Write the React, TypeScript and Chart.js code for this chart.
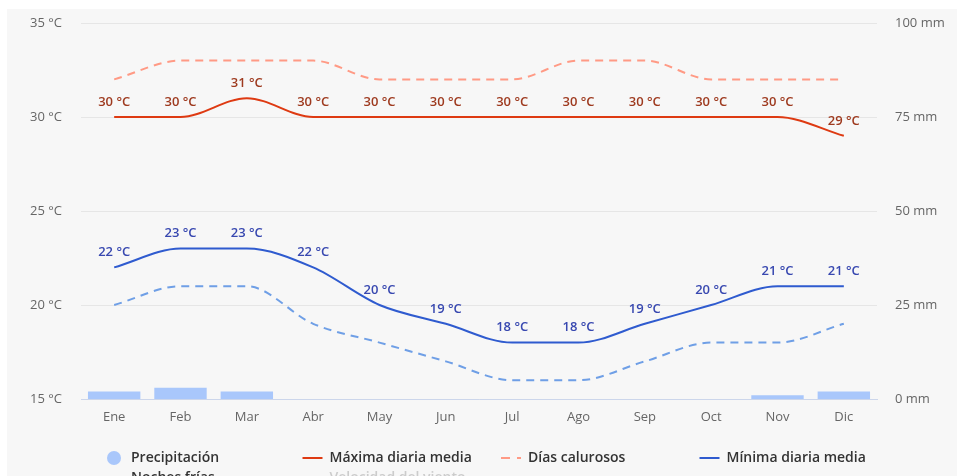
import React, { useEffect, useRef } from "react";
import { Chart, registerables } from "chart.js";

Chart.register(...registerables);

const months = ["Ene", "Feb", "Mar", "Abr", "May", "Jun", "Jul", "Ago", "Sep", "Oct", "Nov", "Dic"];
const precipitation = [2, 3, 2, 0, 0, 0, 0, 0, 0, 0, 1, 2];
const maxTemp = [30, 30, 31, 30, 30, 30, 30, 30, 30, 30, 30, 29];
const hotDays = [32, 33, 33, 33, 32, 32, 32, 33, 33, 32, 32, 32];
const minTemp = [22, 23, 23, 22, 20, 19, 18, 18, 19, 20, 21, 21];
const coldNights = [20, 21, 21, 19, 18, 17, 16, 16, 17, 18, 18, 19];
const tempTicks = [15, 20, 25, 30, 35];
const rainTicks = [0, 25, 50, 75, 100];

const FONT = "'Open Sans', sans-serif";
const BAR_COLOR = "#a9c7fb";
const MAX_COLOR = "#de3a12";
const MAX_LABEL = "#9e3a1f";
const HOT_COLOR = "#ff9a85";
const MIN_COLOR = "#2f5bcf";
const MIN_LABEL = "#3848b0";
const COLD_COLOR = "#6f9fe6";

const legendItems = [
  { label: "Precipitación", kind: "circle", color: BAR_COLOR, hidden: false },
  { label: "Máxima diaria media", kind: "line", color: MAX_COLOR, hidden: false },
  { label: "Días calurosos", kind: "dash", color: HOT_COLOR, hidden: false },
  { label: "Mínima diaria media", kind: "line", color: MIN_COLOR, hidden: false },
  { label: "Noches frías", kind: "dash", color: COLD_COLOR, hidden: false },
  { label: "Velocidad del viento", kind: "line", color: "#cccccc", hidden: true },
];

const dataLabelPlugin = {
  id: "tempLabels",
  afterDatasetsDraw(chart: any) {
    const ctx = chart.ctx;
    const targets = [
      { index: 1, color: MAX_LABEL },
      { index: 3, color: MIN_LABEL },
    ];
    ctx.save();
    ctx.font = `600 13px ${FONT}`;
    ctx.textAlign = "center";
    ctx.textBaseline = "middle";
    targets.forEach((t) => {
      const meta = chart.getDatasetMeta(t.index);
      const values = chart.data.datasets[t.index].data as number[];
      ctx.fillStyle = t.color;
      meta.data.forEach((pt: any, i: number) => {
        ctx.fillText(`${values[i]} °C`, pt.x, pt.y - 15);
      });
    });
    ctx.restore();
  },
};

const legendPlugin = {
  id: "gridLegend",
  afterDraw(chart: any) {
    const ctx = chart.ctx;
    const startX = 123;
    const colW = 198.5;
    const rowY = 449;
    const rowH = 20;
    ctx.save();
    ctx.font = `600 14px ${FONT}`;
    ctx.textBaseline = "middle";
    ctx.textAlign = "left";
    legendItems.forEach((item, i) => {
      const tx = startX + (i % 4) * colW;
      const ty = rowY + Math.floor(i / 4) * rowH;
      ctx.strokeStyle = item.color;
      ctx.fillStyle = item.color;
      if (item.kind === "circle") {
        ctx.beginPath();
        ctx.arc(tx - 17, ty, 7, 0, Math.PI * 2);
        ctx.fill();
      } else {
        ctx.lineWidth = 2;
        ctx.setLineDash(item.kind === "dash" ? [9, 7] : []);
        ctx.beginPath();
        ctx.moveTo(tx - 27, ty);
        ctx.lineTo(tx - 7, ty);
        ctx.stroke();
        ctx.setLineDash([]);
      }
      ctx.fillStyle = item.hidden ? "#cccccc" : "#333333";
      ctx.fillText(item.label, tx, ty);
    });
    ctx.restore();
  },
};

const noVerticalPadding = (s: any, width: number) => {
  s.width = width;
  s.paddingTop = 0;
  s.paddingBottom = 0;
};

export default function App() {
  const canvasRef = useRef<HTMLCanvasElement | null>(null);

  useEffect(() => {
    document.documentElement.style.overflow = "hidden";
    const canvas = canvasRef.current;
    if (!canvas) return;
    const chart = new Chart(canvas, {
      type: "bar",
      data: {
        labels: months,
        datasets: [
          {
            type: "bar",
            label: "Precipitación",
            data: precipitation,
            backgroundColor: BAR_COLOR,
            yAxisID: "y1",
            barPercentage: 0.79,
            categoryPercentage: 1,
            order: 10,
          },
          {
            type: "line",
            label: "Máxima diaria media",
            data: maxTemp,
            borderColor: MAX_COLOR,
            borderWidth: 2,
            pointRadius: 0,
            cubicInterpolationMode: "monotone",
            yAxisID: "y",
            order: 2,
          },
          {
            type: "line",
            label: "Días calurosos",
            data: hotDays,
            borderColor: HOT_COLOR,
            borderWidth: 2,
            borderDash: [8, 6],
            pointRadius: 0,
            cubicInterpolationMode: "monotone",
            yAxisID: "y",
            order: 3,
          },
          {
            type: "line",
            label: "Mínima diaria media",
            data: minTemp,
            borderColor: MIN_COLOR,
            borderWidth: 2,
            pointRadius: 0,
            cubicInterpolationMode: "monotone",
            yAxisID: "y",
            order: 2,
          },
          {
            type: "line",
            label: "Noches frías",
            data: coldNights,
            borderColor: COLD_COLOR,
            borderWidth: 2,
            borderDash: [8, 6],
            pointRadius: 0,
            cubicInterpolationMode: "monotone",
            yAxisID: "y",
            order: 3,
          },
        ],
      } as any,
      options: {
        responsive: false,
        animation: false,
        layout: { padding: { top: 14, left: 0, right: 0, bottom: 80 } },
        plugins: {
          legend: { display: false },
          tooltip: { enabled: false },
        },
        scales: {
          x: {
            offset: true,
            grid: { display: false, drawTicks: false },
            border: { display: true, color: "#ccd6eb", width: 1 },
            ticks: {
              color: "#666666",
              font: { family: FONT, size: 13 },
              padding: 10,
              maxRotation: 0,
            },
            afterFit: (s: any) => {
              s.height = 30;
            },
          },
          y: {
            position: "left",
            min: 15,
            max: 35,
            afterBuildTicks: (s: any) => {
              s.ticks = tempTicks.map((v) => ({ value: v }));
            },
            grid: { color: "#e6e6e6", drawTicks: false },
            border: { display: false },
            ticks: {
              color: "#666666",
              font: { family: FONT, size: 13 },
              padding: 19,
              callback: (v: any) => `${v} °C`,
            },
            afterFit: (s: any) => noVerticalPadding(s, 73),
          },
          y1: {
            position: "right",
            min: 0,
            max: 100,
            afterBuildTicks: (s: any) => {
              s.ticks = rainTicks.map((v) => ({ value: v }));
            },
            grid: { display: false, drawTicks: false },
            border: { display: false },
            ticks: {
              color: "#666666",
              font: { family: FONT, size: 13 },
              padding: 18,
              callback: (v: any) => `${v} mm`,
            },
            afterFit: (s: any) => noVerticalPadding(s, 80),
          },
        },
      } as any,
      plugins: [dataLabelPlugin, legendPlugin],
    });
    return () => chart.destroy();
  }, []);

  return (
    <div
      style={{
        position: "fixed",
        left: 7,
        top: 9,
        right: 0,
        background: "#f7f7f7",
        height: 500,
      }}
    >
      <canvas ref={canvasRef} width={949} height={500} style={{ display: "block", marginLeft: 1 }} />
    </div>
  );
}
